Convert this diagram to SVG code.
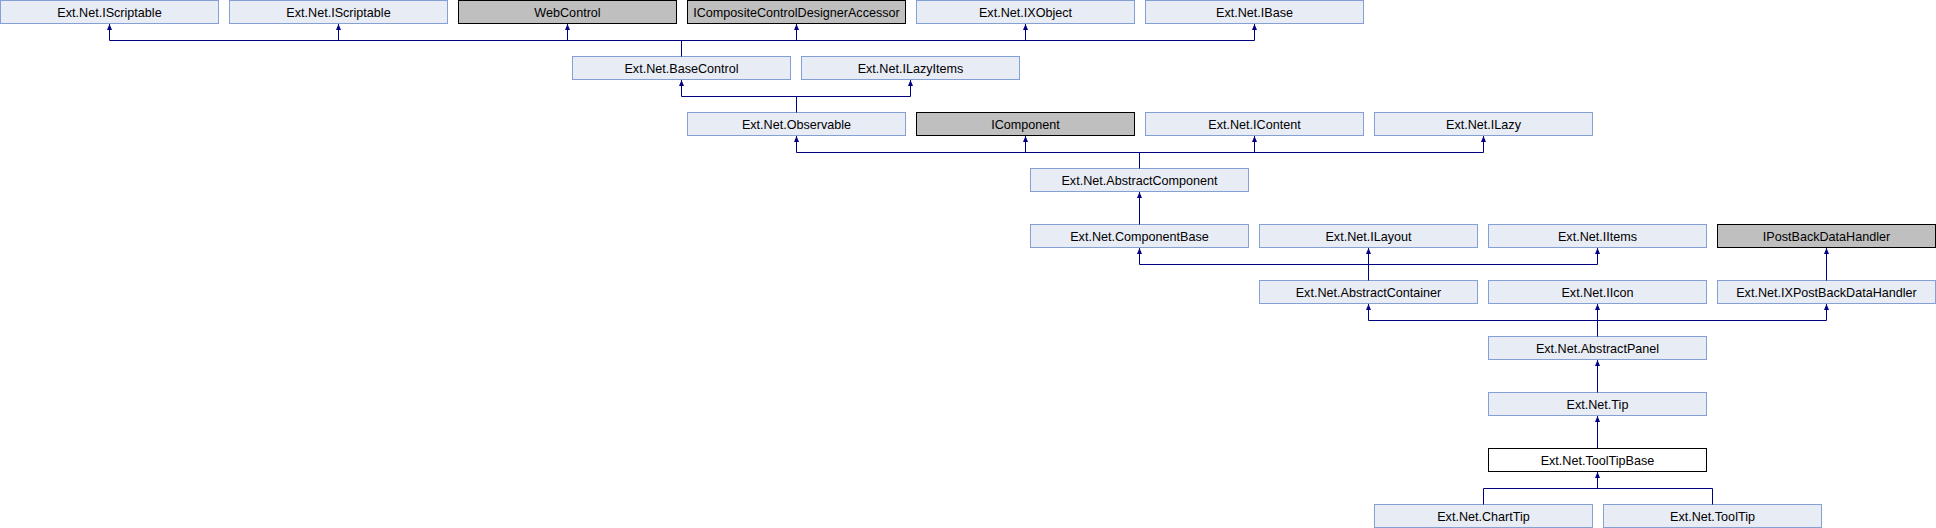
<svg xmlns="http://www.w3.org/2000/svg" width="1936" height="528" viewBox="0 0 1936 528">
<defs>
<marker id="arr" viewBox="0 0 6 5" refX="6" refY="2.5" markerUnits="userSpaceOnUse" markerWidth="6" markerHeight="5" orient="auto-start-reverse">
<path d="M0,0 L6,2.5 L0,5 z" fill="#000080"/>
</marker>
</defs>
<style>
rect{stroke-width:1}
.n rect{fill:#E8ECF5;stroke:#84A0D4}
.g rect{fill:#BFBFBF;stroke:#000000}
.w rect{fill:#FFFFFF;stroke:#000000}
text{font-family:"Liberation Sans",Arial,sans-serif;font-size:12.6px;fill:#000000;text-anchor:middle}
.e path{fill:none;stroke:#000080;stroke-width:1}
.e path.a{marker-start:url(#arr)}
</style>
<rect x="0" y="0" width="1936" height="528" fill="#FFFFFF"/>
<g id="n_iscriptable1" class="n"><rect x="0.5" y="0.5" width="218" height="23"/><text x="109.5" y="16.5">Ext.Net.IScriptable</text></g>
<g id="n_iscriptable2" class="n"><rect x="229.5" y="0.5" width="218" height="23"/><text x="338.5" y="16.5">Ext.Net.IScriptable</text></g>
<g id="n_webcontrol" class="g"><rect x="458.5" y="0.5" width="218" height="23"/><text x="567.5" y="16.5">WebControl</text></g>
<g id="n_icomposite" class="g"><rect x="687.5" y="0.5" width="218" height="23"/><text x="796.5" y="16.5">ICompositeControlDesignerAccessor</text></g>
<g id="n_ixobject" class="n"><rect x="916.5" y="0.5" width="218" height="23"/><text x="1025.5" y="16.5">Ext.Net.IXObject</text></g>
<g id="n_ibase" class="n"><rect x="1145.5" y="0.5" width="218" height="23"/><text x="1254.5" y="16.5">Ext.Net.IBase</text></g>
<g id="n_basecontrol" class="n"><rect x="572.5" y="56.5" width="218" height="23"/><text x="681.5" y="72.5">Ext.Net.BaseControl</text></g>
<g id="n_ilazyitems" class="n"><rect x="801.5" y="56.5" width="218" height="23"/><text x="910.5" y="72.5">Ext.Net.ILazyItems</text></g>
<g id="n_observable" class="n"><rect x="687.5" y="112.5" width="218" height="23"/><text x="796.5" y="128.5">Ext.Net.Observable</text></g>
<g id="n_icomponent" class="g"><rect x="916.5" y="112.5" width="218" height="23"/><text x="1025.5" y="128.5">IComponent</text></g>
<g id="n_icontent" class="n"><rect x="1145.5" y="112.5" width="218" height="23"/><text x="1254.5" y="128.5">Ext.Net.IContent</text></g>
<g id="n_ilazy" class="n"><rect x="1374.5" y="112.5" width="218" height="23"/><text x="1483.5" y="128.5">Ext.Net.ILazy</text></g>
<g id="n_abstractcomponent" class="n"><rect x="1030.5" y="168.5" width="218" height="23"/><text x="1139.5" y="184.5">Ext.Net.AbstractComponent</text></g>
<g id="n_componentbase" class="n"><rect x="1030.5" y="224.5" width="218" height="23"/><text x="1139.5" y="240.5">Ext.Net.ComponentBase</text></g>
<g id="n_ilayout" class="n"><rect x="1259.5" y="224.5" width="218" height="23"/><text x="1368.5" y="240.5">Ext.Net.ILayout</text></g>
<g id="n_iitems" class="n"><rect x="1488.5" y="224.5" width="218" height="23"/><text x="1597.5" y="240.5">Ext.Net.IItems</text></g>
<g id="n_ipostback" class="g"><rect x="1717.5" y="224.5" width="218" height="23"/><text x="1826.5" y="240.5">IPostBackDataHandler</text></g>
<g id="n_abstractcontainer" class="n"><rect x="1259.5" y="280.5" width="218" height="23"/><text x="1368.5" y="296.5">Ext.Net.AbstractContainer</text></g>
<g id="n_iicon" class="n"><rect x="1488.5" y="280.5" width="218" height="23"/><text x="1597.5" y="296.5">Ext.Net.IIcon</text></g>
<g id="n_ixpostback" class="n"><rect x="1717.5" y="280.5" width="218" height="23"/><text x="1826.5" y="296.5">Ext.Net.IXPostBackDataHandler</text></g>
<g id="n_abstractpanel" class="n"><rect x="1488.5" y="336.5" width="218" height="23"/><text x="1597.5" y="352.5">Ext.Net.AbstractPanel</text></g>
<g id="n_tip" class="n"><rect x="1488.5" y="392.5" width="218" height="23"/><text x="1597.5" y="408.5">Ext.Net.Tip</text></g>
<g id="n_tooltipbase" class="w"><rect x="1488.5" y="448.5" width="218" height="23"/><text x="1597.5" y="464.5">Ext.Net.ToolTipBase</text></g>
<g id="n_charttip" class="n"><rect x="1374.5" y="504.5" width="218" height="23"/><text x="1483.5" y="520.5">Ext.Net.ChartTip</text></g>
<g id="n_tooltip" class="n"><rect x="1603.5" y="504.5" width="218" height="23"/><text x="1712.5" y="520.5">Ext.Net.ToolTip</text></g>
<g id="connectors" class="e">
<path d="M109.5 40.5 H1254.5 M681.5 40.5 V56.5"/>
<path class="a" d="M109.5 24 V40.5"/>
<path class="a" d="M338.5 24 V40.5"/>
<path class="a" d="M567.5 24 V40.5"/>
<path class="a" d="M796.5 24 V40.5"/>
<path class="a" d="M1025.5 24 V40.5"/>
<path class="a" d="M1254.5 24 V40.5"/>
<path d="M681.5 96.5 H910.5 M796.5 96.5 V112.5"/>
<path class="a" d="M681.5 80 V96.5"/>
<path class="a" d="M910.5 80 V96.5"/>
<path d="M796.5 152.5 H1483.5 M1139.5 152.5 V168.5"/>
<path class="a" d="M796.5 136 V152.5"/>
<path class="a" d="M1025.5 136 V152.5"/>
<path class="a" d="M1254.5 136 V152.5"/>
<path class="a" d="M1483.5 136 V152.5"/>
<path class="a" d="M1139.5 192 V224.5"/>
<path d="M1139.5 264.5 H1597.5 M1368.5 264.5 V280.5"/>
<path class="a" d="M1139.5 248 V264.5"/>
<path class="a" d="M1368.5 248 V264.5"/>
<path class="a" d="M1597.5 248 V264.5"/>
<path class="a" d="M1826.5 248 V280.5"/>
<path d="M1368.5 320.5 H1826.5 M1597.5 320.5 V336.5"/>
<path class="a" d="M1368.5 304 V320.5"/>
<path class="a" d="M1597.5 304 V320.5"/>
<path class="a" d="M1826.5 304 V320.5"/>
<path class="a" d="M1597.5 360 V392.5"/>
<path class="a" d="M1597.5 416 V448.5"/>
<path class="a" d="M1597.5 472 V488.5"/>
<path d="M1483.5 504.5 V488.5 H1712.5 V504.5"/>
</g>
</svg>
